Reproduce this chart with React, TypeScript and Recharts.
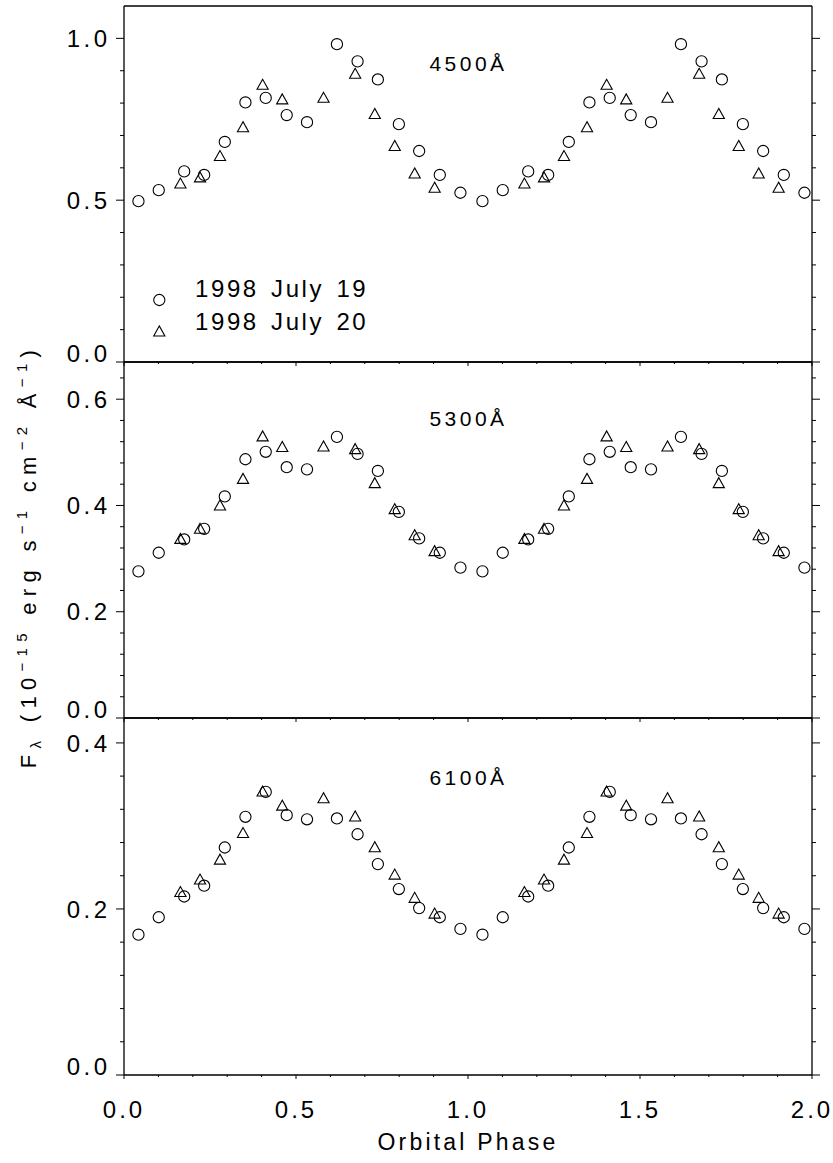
import React from 'react';
import { ScatterChart, Scatter, XAxis, YAxis, Customized } from 'recharts';

const W = 833;
const H = 1163;
const PLOT_LEFT = 124;
const PLOT_RIGHT = 812;
const AX_H = 2;
const YL_W = 60;
const YR_W = 10;
const FONT = '"Liberation Sans", Arial, Helvetica, sans-serif';

// x axis ticks (Orbital Phase)
const xTicks = [0, 0.1, 0.2, 0.3, 0.4, 0.5, 0.6, 0.7, 0.8, 0.9, 1.0, 1.1, 1.2, 1.3, 1.4, 1.5, 1.6, 1.7, 1.8, 1.9, 2.0];
const xMajor = [0, 0.5, 1.0, 1.5, 2.0];
const cycles = [0, 1];

// y ticks per panel
const yTicks4500 = [0, 0.1, 0.2, 0.3, 0.4, 0.5, 0.6, 0.7, 0.8, 0.9, 1.0];
const yMajor4500 = [0, 0.5, 1.0];
const yTicks5300 = [0, 0.04, 0.08, 0.12, 0.16, 0.2, 0.24, 0.28, 0.32, 0.36, 0.4, 0.44, 0.48, 0.52, 0.56, 0.6, 0.64];
const yMajor5300 = [0, 0.2, 0.4, 0.6];
const yTicks6100 = [0, 0.04, 0.08, 0.12, 0.16, 0.2, 0.24, 0.28, 0.32, 0.36, 0.4];
const yMajor6100 = [0, 0.2, 0.4];

// orbital phases of the observations (one cycle)
const phaseJul19 = [0.042, 0.101, 0.175, 0.233, 0.293, 0.353, 0.412, 0.473, 0.532, 0.619, 0.679, 0.738, 0.799, 0.858, 0.918, 0.978];
const phaseJul20 = [0.164, 0.221, 0.279, 0.346, 0.403, 0.460, 0.580, 0.672, 0.729, 0.787, 0.845, 0.903];

// fluxes (1e-15 erg s-1 cm-2 A-1)
const flux4500Jul19 = [0.497, 0.531, 0.589, 0.578, 0.680, 0.802, 0.816, 0.763, 0.741, 0.982, 0.929, 0.873, 0.735, 0.652, 0.578, 0.523];
const flux4500Jul20 = [0.553, 0.572, 0.638, 0.727, 0.858, 0.813, 0.818, 0.892, 0.768, 0.669, 0.584, 0.540];
const flux5300Jul19 = [0.276, 0.311, 0.336, 0.356, 0.417, 0.487, 0.501, 0.472, 0.468, 0.529, 0.497, 0.465, 0.388, 0.338, 0.311, 0.283];
const flux5300Jul20 = [0.338, 0.357, 0.401, 0.451, 0.531, 0.511, 0.512, 0.507, 0.443, 0.394, 0.345, 0.315];
const flux6100Jul19 = [0.169, 0.190, 0.215, 0.228, 0.274, 0.311, 0.341, 0.313, 0.308, 0.309, 0.290, 0.254, 0.224, 0.201, 0.190, 0.176];
const flux6100Jul20 = [0.221, 0.236, 0.260, 0.292, 0.342, 0.325, 0.334, 0.312, 0.275, 0.242, 0.214, 0.195];

const legendLabels = ['1998 July 19', '1998 July 20'];

function folded(phases: number[], values: number[]) {
  const out: { x: number; y: number }[] = [];
  cycles.forEach((c) => {
    phases.forEach((p, i) => out.push({ x: p + c, y: values[i] }));
  });
  return out;
}

function near(v: number, arr: number[]) {
  return arr.some((a) => Math.abs(a - v) < 1e-6);
}

const CircleShape = (props: any) => {
  const { cx, cy } = props;
  if (cx == null || cy == null) return null;
  return <circle cx={cx} cy={cy} r={5.6} fill="none" stroke="#000" strokeWidth={1.1} />;
};

const TriangleShape = (props: any) => {
  const { cx, cy } = props;
  if (cx == null || cy == null) return null;
  const pts = `${cx},${cy - 5} ${cx - 5.6},${cy + 5} ${cx + 5.6},${cy + 5}`;
  return <polygon points={pts} fill="none" stroke="#000" strokeWidth={1.1} />;
};

const XTick = (props: any) => {
  const { x, y, payload, dir, showLabel } = props;
  const v = payload.value;
  const major = near(v, xMajor);
  const len = major ? 4 : 2;
  return (
    <g>
      <line x1={x} y1={y} x2={x} y2={y + dir * len} stroke="#000" strokeWidth={1} />
      {showLabel && major ? (
        <text x={x} y={y + 43} textAnchor="middle" fontFamily={FONT} fontSize={24} letterSpacing={3} fill="#000">
          {v.toFixed(1)}
        </text>
      ) : null}
    </g>
  );
};

const YTick = (props: any) => {
  const { x, y, payload, dir, majors, showLabel } = props;
  const v = payload.value;
  const major = near(v, majors);
  const len = major ? 8 : 4;
  return (
    <g>
      <line x1={x} y1={y} x2={x + dir * len} y2={y} stroke="#000" strokeWidth={1} />
      {showLabel && major ? (
        <text x={110.5} y={y + 8.6 + (v === 0 ? -9 : 0)} textAnchor="end" fontFamily={FONT} fontSize={24} letterSpacing={3.5} fill="#000">
          {v.toFixed(1)}
        </text>
      ) : null}
    </g>
  );
};

type PanelProps = {
  top: number;
  bottom: number;
  domain: [number, number];
  yTicks: number[];
  yMajor: number[];
  jul19: { x: number; y: number }[];
  jul20: { x: number; y: number }[];
  label: string;
  labelY: number;
  last?: boolean;
  extra?: React.ReactElement;
};

function Panel(p: PanelProps) {
  const margin = {
    top: p.top - AX_H,
    bottom: H - p.bottom - AX_H,
    left: PLOT_LEFT - YL_W,
    right: W - PLOT_RIGHT - YR_W,
  };
  const axisLine = { stroke: '#000', strokeWidth: 1.3 };
  return (
    <div style={{ position: 'absolute', left: 0, top: 0, width: W, height: H }}>
      <ScatterChart width={W} height={H} margin={margin}>
        <XAxis
          xAxisId="b"
          type="number"
          dataKey="x"
          domain={[0, 2]}
          ticks={xTicks}
          interval={0}
          orientation="bottom"
          height={AX_H}
          tickSize={0}
          tickMargin={0}
          tickLine={false}
          axisLine={axisLine}
          tick={(tp: any) => <XTick {...tp} dir={1} showLabel={!!p.last} />}
        />
        <XAxis
          xAxisId="t"
          type="number"
          domain={[0, 2]}
          ticks={xTicks}
          interval={0}
          orientation="top"
          height={AX_H}
          tickSize={0}
          tickMargin={0}
          tickLine={false}
          axisLine={axisLine}
          tick={(tp: any) => <XTick {...tp} dir={-1} showLabel={false} />}
        />
        <YAxis
          yAxisId="l"
          type="number"
          dataKey="y"
          domain={p.domain}
          allowDataOverflow
          ticks={p.yTicks}
          interval={0}
          orientation="left"
          width={YL_W}
          tickSize={0}
          tickMargin={0}
          tickLine={false}
          axisLine={axisLine}
          tick={(tp: any) => <YTick {...tp} dir={-1} majors={p.yMajor} showLabel />}
        />
        <YAxis
          yAxisId="r"
          type="number"
          domain={p.domain}
          allowDataOverflow
          ticks={p.yTicks}
          interval={0}
          orientation="right"
          width={YR_W}
          tickSize={0}
          tickMargin={0}
          tickLine={false}
          axisLine={axisLine}
          tick={(tp: any) => <YTick {...tp} dir={1} majors={p.yMajor} showLabel={false} />}
        />
        <Scatter xAxisId="b" yAxisId="l" data={p.jul19} shape={CircleShape} isAnimationActive={false} />
        <Scatter xAxisId="b" yAxisId="l" data={p.jul20} shape={TriangleShape} isAnimationActive={false} />
        <Customized
          component={
            <g>
              <text x={468.5} y={p.labelY} textAnchor="middle" fontFamily={FONT} fontSize={21} letterSpacing={3.5} fill="#000">
                {p.label}
              </text>
              {p.extra}
            </g>
          }
        />
      </ScatterChart>
    </div>
  );
}

const legendEl = (
  <g>
    <circle cx={159.3} cy={300} r={5.6} fill="none" stroke="#000" strokeWidth={1.1} />
    <polygon points="159.3,326 153.7,336 164.9,336" fill="none" stroke="#000" strokeWidth={1.1} />
    <text x={195} y={297} fontFamily={FONT} fontSize={24} letterSpacing={2.6} wordSpacing={3} fill="#000" style={{ whiteSpace: 'pre' }}>
      {legendLabels[0]}
    </text>
    <text x={195} y={329.5} fontFamily={FONT} fontSize={24} letterSpacing={2.6} wordSpacing={3} fill="#000" style={{ whiteSpace: 'pre' }}>
      {legendLabels[1]}
    </text>
  </g>
);

const yTitleEl = (
  <text transform="translate(36,556) rotate(-90)" textAnchor="middle" fontFamily={FONT} fontSize={22} letterSpacing={6.3} fill="#000" style={{ whiteSpace: 'pre' }}>
    <tspan>F</tspan>
    <tspan fontSize={15} dy={5}>λ</tspan>
    <tspan dy={-5}> (10</tspan>
    <tspan fontSize={15} dy={-9}>−15</tspan>
    <tspan dy={9}> erg s</tspan>
    <tspan fontSize={15} dy={-9}>−1</tspan>
    <tspan dy={9}> cm</tspan>
    <tspan fontSize={15} dy={-9}>−2</tspan>
    <tspan dy={9}> Å</tspan>
    <tspan fontSize={15} dy={-9}>−1</tspan>
    <tspan dy={9}>)</tspan>
  </text>
);

const xTitleEl = (
  <text x={468} y={1150} textAnchor="middle" fontFamily={FONT} fontSize={23} letterSpacing={3.2} fill="#000" style={{ whiteSpace: 'pre' }}>
    Orbital Phase
  </text>
);

export default function App() {
  return (
    <div style={{ position: 'absolute', left: 0, top: 0, width: W, height: H, background: '#fff' }}>
      <Panel
        top={6}
        bottom={362}
        domain={[0, 1.1]}
        yTicks={yTicks4500}
        yMajor={yMajor4500}
        jul19={folded(phaseJul19, flux4500Jul19)}
        jul20={folded(phaseJul20, flux4500Jul20)}
        label="4500Å"
        labelY={70.7}
        extra={legendEl}
      />
      <Panel
        top={362}
        bottom={718}
        domain={[0, 0.67]}
        yTicks={yTicks5300}
        yMajor={yMajor5300}
        jul19={folded(phaseJul19, flux5300Jul19)}
        jul20={folded(phaseJul20, flux5300Jul20)}
        label="5300Å"
        labelY={425.7}
        extra={yTitleEl}
      />
      <Panel
        top={718}
        bottom={1075}
        domain={[0, 0.43]}
        yTicks={yTicks6100}
        yMajor={yMajor6100}
        jul19={folded(phaseJul19, flux6100Jul19)}
        jul20={folded(phaseJul20, flux6100Jul20)}
        label="6100Å"
        labelY={785}
        last
        extra={xTitleEl}
      />
    </div>
  );
}
